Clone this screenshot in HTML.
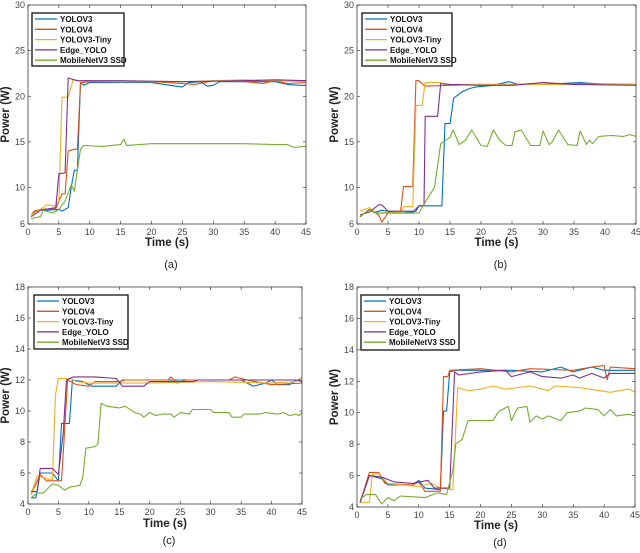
<!DOCTYPE html>
<html><head><meta charset="utf-8"><style>
html,body{margin:0;padding:0;background:#fff;width:640px;height:553px;overflow:hidden}
svg{display:block}
text{font-family:"Liberation Sans",sans-serif}
</style></head><body>
<svg id="fig" width="640" height="553" viewBox="0 0 640 553" xmlns="http://www.w3.org/2000/svg"></svg>
<script>
const seriesNames = ["YOLOV3","YOLOV4","YOLOV3-Tiny","Edge_YOLO","MobileNetV3 SSD"];
const seriesColors = ["#0072BD","#D95319","#EDB120","#7E2F8E","#77AC30"];
const xTicks = [0,5,10,15,20,25,30,35,40,45];
const yTicksAB = [6,10,15,20,25,30];
const yTicksCD = [4,6,8,10,12,14,16,18];

const aYolov3 = [[0.5,7],[1,7.3],[2,7.6],[3,7.5],[5,7.6],[5.5,7.4],[6.5,7.8],[7,10],[7.5,11.9],[8,11.9],[8.5,21.5],[9,21.2],[10,21.5],[15,21.5],[20,21.5],[24,21.1],[25,21],[26,21.5],[28,21.6],[29,21.1],[30,21.2],[31,21.6],[35,21.6],[40,21.6],[42,21.3],[44,21.2],[45,21.2]];
const aYolov4 = [[0.5,7],[1,7.4],[2,7.6],[4.5,7.7],[5.5,9.3],[6,9.3],[6.5,14],[7.5,14.2],[8,14.2],[8.5,21.5],[10,21.6],[15,21.6],[20,21.6],[25,21.4],[27,21.3],[30,21.7],[35,21.6],[38,21.4],[40,21.7],[42,21.4],[45,21.5]];
const aYolov3Tiny = [[0.5,7],[2,7.6],[3,8.1],[4.5,8],[5,8.6],[5.5,19.9],[6.5,19.9],[7.3,21.8],[8,21.7],[15,21.6],[25,21.6],[35,21.8],[45,21.6]];
const aEdge = [[0.5,6.8],[2,7.5],[4.5,7.8],[5,11.5],[6,11.6],[6.5,22],[7,21.9],[8,21.7],[15,21.7],[25,21.6],[35,21.7],[40,21.8],[45,21.7]];
const aMobile = [[0.5,6.6],[2,6.8],[2.5,7.5],[4,7.2],[5,7.6],[6,8.5],[7,10.3],[7.5,9.6],[8.5,14.2],[9,14.6],[12,14.5],[15,14.7],[15.5,15.3],[16,14.6],[20,14.8],[25,14.8],[30,14.8],[35,14.8],[40,14.7],[42,14.7],[43,14.4],[45,14.5]];

const bYolov3 = [[0.5,6.8],[2,7.6],[3,7.3],[4,7.5],[7,7.2],[9,7.3],[10,8],[13.7,8],[14.2,17],[15,17],[15.6,19.8],[17,20.5],[18,20.8],[19,21],[22,21.2],[24.5,21.6],[26,21.3],[30,21.3],[36,21.5],[40,21.3],[45,21.3]];
const bYolov4 = [[0.5,6.8],[2,7.6],[3.5,7],[4,6.2],[5,7.2],[7,7.2],[7.5,10.1],[9,10.1],[9.5,21.7],[10,21.7],[11,21.1],[15,21.2],[20,21.3],[25,21.3],[30,21.3],[35,21.4],[45,21.3]];
const bYolov3Tiny = [[0.5,7.4],[2,7.8],[3,7.2],[7,7.3],[7.5,7.9],[9,7.9],[9.5,19],[10.5,19],[11,21.5],[13.5,21.5],[14,21.3],[25,21.3],[35,21.3],[45,21.3]];
const bEdge = [[0.5,7],[2,7.3],[3.5,8.1],[4,8.1],[5,7.4],[9.5,7.4],[10,8],[10.8,8],[11,17.8],[13,17.8],[13.5,21.4],[15,21.3],[20,21.2],[25,21.2],[30,21.5],[35,21.3],[45,21.2]];
const bMobile = [[0.5,6.9],[2,7.5],[3,7.2],[10,7.2],[11,8.4],[12.5,10],[13.5,14.8],[15,15.5],[15.5,16.3],[16.5,14.7],[17.5,15.2],[18.5,16.3],[20,14.6],[21,14.5],[22,16.3],[23,15.2],[24,14.6],[25,14.6],[25.5,16.1],[26.5,16.3],[28,14.6],[29.5,14.6],[30,16.2],[31,14.7],[31.5,15],[32.5,16.3],[34,14.7],[35.5,14.6],[36,16.2],[37,14.7],[37.5,15.2],[38,14.8],[39,15.6],[41,15.7],[43,15.6],[44,15.8],[45,15.6]];

const cYolov3 = [[0.5,4.4],[1.3,4.4],[2,6],[4,6],[5,5.5],[5.5,9.2],[6.8,9.2],[7.3,12],[9,11.9],[10.5,11.6],[14.5,11.6],[15.5,12],[20,12],[30,12],[35,12],[37,11.6],[39,11.8],[40,12],[41,11.7],[43,11.7],[44,12],[45,11.9]];
const cYolov4 = [[0.5,4.6],[2,5.9],[3,5.5],[5.5,5.5],[6,8.6],[6.5,12],[8,11.7],[10,11.6],[11,11.9],[15,11.9],[16,12],[23,12],[23.5,12.2],[24.5,11.8],[26,12],[33,12],[34,12.2],[36,12],[40,11.7],[45,11.8]];
const cYolov3Tiny = [[0.5,4.6],[1.5,5.8],[3.5,5.6],[4,5.6],[4.5,11],[5,12.1],[7,12.1],[8,11.9],[10,11.8],[20,11.8],[30,11.9],[40,11.8],[44,11.9],[45,12.2]];
const cEdge = [[0.5,4.8],[1.5,4.8],[2,6.3],[4,6.3],[5,5.9],[5.8,8.6],[6.3,12],[7.5,12.2],[11,12.2],[14.5,12.1],[15.5,11.6],[19,11.6],[20,11.9],[27,11.9],[28,12],[45,12]];
const cMobile = [[0.5,4.4],[1.5,4.7],[2.5,4.7],[4,5.3],[5,5.2],[6,4.9],[7,5.1],[8.5,5.2],[9,5.7],[9.5,7.6],[11,7.7],[11.5,7.9],[12,10.5],[13,10.3],[15,10.2],[16,10.3],[17.5,9.9],[18.5,9.8],[19,9.6],[20,9.9],[21,9.7],[22,9.8],[23.5,9.8],[24,9.6],[25,9.9],[26.5,9.8],[27,10.1],[30,10.1],[30.5,9.9],[33,9.9],[33.5,9.6],[35,9.6],[35.5,9.8],[38,9.8],[39,9.9],[41,9.8],[42,9.9],[43,9.7],[44,9.8],[44.5,9.7],[45,9.9]];

const dYolov3 = [[0.5,4.3],[2,6],[4,5.8],[5,5.4],[9,5.4],[10,5.7],[11,5.2],[13.5,5.1],[14,10.1],[14.5,10.1],[15,12.6],[16,12.7],[25,12.7],[30,12.6],[33,12.9],[35,12.6],[38,12.9],[40,12.7],[45,12.7]];
const dYolov4 = [[0.5,4.3],[2,6.2],[3.5,6.2],[4.5,5.5],[9,5.4],[10,5.6],[11,5],[13.5,5],[14,12.3],[14.7,12.3],[15,12.7],[20,12.8],[25,12.6],[28,12.8],[35,12.7],[38,12.9],[40,13],[40.5,12.1],[41,12.9],[45,12.8]];
const dYolov3Tiny = [[0.5,4.3],[2,4.3],[2.5,6.1],[3.5,6.1],[5,5.5],[10,5.3],[12,5.5],[13.5,5.2],[15.5,5.1],[16.3,11.6],[18,11.4],[20,11.5],[22,11.7],[24,11.5],[28,11.7],[31,11.4],[32,11.7],[36,11.6],[41,11.3],[44,11.5],[45,11.3]];
const dEdge = [[0.5,4.3],[2,6],[4,5.9],[6,5.6],[9,5.5],[11.5,5.7],[12.5,5.2],[15,5.2],[15.8,12.6],[16.5,12.4],[20,12.6],[24,12.7],[25,12.3],[28,12.6],[30,12.3],[33,12.2],[35,12.4],[36,12.2],[38,12.5],[40,12.2],[41,12.5],[45,12.5]];
const dMobile = [[0.5,4.5],[1.5,4.8],[3,4.8],[4,4.2],[5,4.6],[6,4.4],[7,4.7],[11,4.6],[13,4.9],[14.5,4.8],[15.5,6.3],[16,8],[17,8.3],[18,9.5],[22,9.5],[23,10.1],[24.5,10.4],[25,9.5],[26,10.3],[27.5,10.4],[28,9.4],[29,9.8],[30,9.6],[31,9.8],[33,9.5],[34,10],[36,10.1],[37,10.3],[39,10.2],[40,9.8],[41,10.2],[42,9.8],[44,9.9],[45,9.8]];

const panels = [
  {id:"a",L:28,R:306,T:5,B:224,ymin:6,ymax:30,yt:yTicksAB,data:[aYolov3,aYolov4,aYolov3Tiny,aEdge,aMobile],leg:[32,13,92,53],xl:246,cap:268},
  {id:"b",L:357,R:636,T:5,B:224,ymin:6,ymax:30,yt:yTicksAB,data:[bYolov3,bYolov4,bYolov3Tiny,bEdge,bMobile],leg:[362,13,90,53],xl:246,cap:268},
  {id:"c",L:28,R:302,T:287,B:504,ymin:4,ymax:18,yt:yTicksCD,data:[cYolov3,cYolov4,cYolov3Tiny,cEdge,cMobile],leg:[34,295,94,54],xl:527,cap:544},
  {id:"d",L:357,R:635,T:287,B:507,ymin:4,ymax:18,yt:yTicksCD,data:[dYolov3,dYolov4,dYolov3Tiny,dEdge,dMobile],leg:[361,295,98,55],xl:529,cap:546}
];
const NS="http://www.w3.org/2000/svg";
const svg=document.getElementById("fig");
function mk(tag,attrs,parent){const e=document.createElementNS(NS,tag);for(const k in attrs)e.setAttribute(k,attrs[k]);(parent||svg).appendChild(e);return e;}
panels.forEach(p=>{
  const g=mk("g",{});
  
  
  const xs=t=>p.L+(t-0)/(45-0)*(p.R-p.L);
  const ys=v=>p.B-(v-p.ymin)/(p.ymax-p.ymin)*(p.B-p.T);
  // ticks
  xTicks.forEach(t=>{
    const x=xs(t);
    mk("line",{x1:x,x2:x,y1:p.B,y2:p.B-3,stroke:"#262626","stroke-width":0.6},g);
    mk("line",{x1:x,x2:x,y1:p.T,y2:p.T+3,stroke:"#262626","stroke-width":0.6},g);
    const tx=mk("text",{x:x,y:p.B+11,"font-size":9,fill:"#444","text-anchor":"middle"},g);
    tx.textContent=t;
    
    
  });
  p.yt.forEach(v=>{
    const y=ys(v);
    mk("line",{x1:p.L,x2:p.L+3,y1:y,y2:y,stroke:"#262626","stroke-width":0.6},g);
    mk("line",{x1:p.R,x2:p.R-3,y1:y,y2:y,stroke:"#262626","stroke-width":0.6},g);
    const tx=mk("text",{x:p.L-3,y:y+3,"font-size":9,fill:"#444","text-anchor":"end"},g);
    tx.textContent=v;
    
    
  });
  // series
  p.data.forEach((s,i)=>{
    const pl=mk("polyline",{points:s.map(d=>xs(d[0]).toFixed(1)+","+ys(d[1]).toFixed(1)).join(" "),fill:"none",stroke:seriesColors[i],"stroke-width":1.1,"stroke-linejoin":"round"},g);
    
    
  });
  const box=mk("rect",{x:p.L,y:p.T,width:p.R-p.L,height:p.B-p.T,fill:"none",stroke:"#262626","stroke-width":0.7},g);
  
  
  // axis labels
  const xl=mk("text",{x:(p.L+p.R)/2,y:p.xl,"font-size":11.5,"font-weight":"bold",fill:"#222","text-anchor":"middle"},g);
  xl.textContent="Time (s)";
  
  
  const yx=p.L-19, yc=(p.T+p.B)/2;
  const yl=mk("text",{x:yx,y:yc,"font-size":11.5,"font-weight":"bold",fill:"#222","text-anchor":"middle",transform:"rotate(-90 "+yx+" "+yc+")"},g);
  yl.textContent="Power (W)";
  
  
  const cp=mk("text",{x:(p.L+p.R)/2+4,y:p.cap,"font-size":11,fill:"#222","text-anchor":"middle","font-family":"Liberation Serif, serif"},g);
  cp.textContent="("+p.id+")";
  
  
  // legend
  const [lx,ly,lw,lh]=p.leg;
  const lg=mk("g",{},g);
  
  
  mk("rect",{x:lx,y:ly,width:lw,height:lh,fill:"#fff",stroke:"#222","stroke-width":1.4},lg);
  seriesNames.forEach((n,i)=>{
    const yy=ly+6+i*10.3;
    mk("line",{x1:lx+3,x2:lx+25,y1:yy,y2:yy,stroke:seriesColors[i],"stroke-width":1.3},lg);
    const t=mk("text",{x:lx+28,y:yy+3,"font-size":8,"font-weight":"bold",fill:"#111"},lg);
    t.textContent=n;
    
    
  });
});
</script>
</body></html>
